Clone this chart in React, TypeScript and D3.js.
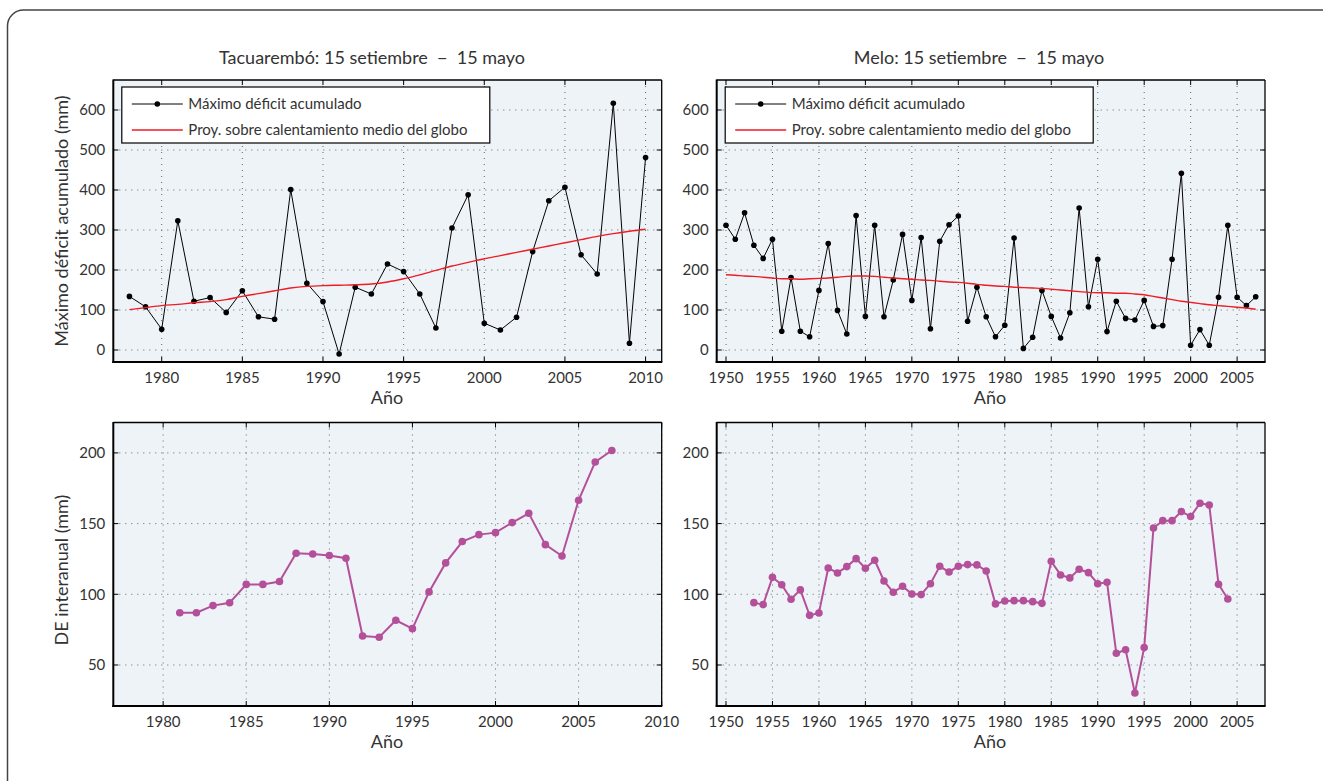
import * as d3 from 'd3'

const FONT = 'Lato, "Open Sans", sans-serif'

// Tacuarembó
const tacYears = d3.range(1978, 2011)
const tacDeficit = [134, 108, 52, 323, 122, 131, 94, 148, 83, 77, 401, 167, 121, -10, 157, 140, 215, 196, 140, 55, 305, 388, 67, 50, 82, 246, 373, 407, 238, 190, 617, 17, 481]
const tacProj = [101, 106, 111, 114, 118, 121, 126, 134, 141, 148, 155, 159, 161, 162, 163, 165, 170, 178, 188, 199, 210, 219, 228, 236, 244, 252, 260, 268, 276, 284, 291, 297, 302]
const tacDEYears = d3.range(1981, 2008)
const tacDE = [87, 87, 92, 94, 107, 107, 109, 129, 128.5, 127.4, 125.5, 70.5, 69.6, 81.6, 75.7, 101.7, 122.2, 137.3, 142.2, 143.6, 150.7, 157.3, 135.1, 127.1, 166.5, 193.6, 201.7]

// Melo
const meloYears = d3.range(1950, 2008)
const meloDeficit = [312, 277, 343, 262, 229, 277, 47, 181, 47, 33, 149, 266, 99, 40, 336, 84, 312, 83, 175, 289, 124, 281, 53, 272, 313, 335, 72, 157, 83, 33, 62, 280, 4, 32, 149, 84, 30, 93, 355, 108, 227, 46, 122, 79, 75, 124, 59, 61, 227, 442, 12, 51, 12, 132, 312, 132, 111, 133]
const meloProj = [188, 187, 185, 184, 182, 180, 178, 178, 177, 178, 179, 180, 182, 184, 185, 185, 184, 182, 180, 178, 177, 175, 174, 172, 170, 169, 167, 164, 162, 160, 159, 157, 156, 155, 154, 152, 150, 148, 146, 144, 143, 143, 142, 142, 140, 138, 134, 130, 126, 122, 119, 116, 113, 111, 109, 107, 105, 102]
const meloDEYears = d3.range(1953, 2005)
const meloDE = [94.1, 92.7, 112, 106.8, 96.5, 103.1, 85.1, 86.8, 118.6, 115.1, 119.6, 125.2, 118.4, 124.1, 109.4, 101.4, 105.7, 100.2, 99.8, 107.5, 119.8, 115.8, 119.8, 121, 120.8, 116.5, 93.2, 95.3, 95.5, 95.5, 94.8, 93.6, 123.3, 113.7, 111.6, 117.7, 115.3, 107.5, 108.5, 58.3, 60.8, 30.2, 62.3, 146.9, 152.1, 152.1, 158.5, 155, 164.4, 163.2, 107.1, 96.7]

const tacXTicks = [1980, 1985, 1990, 1995, 2000, 2005, 2010]
const meloXTicks = [1950, 1955, 1960, 1965, 1970, 1975, 1980, 1985, 1990, 1995, 2000, 2005]
const deficitYTicks = [0, 100, 200, 300, 400, 500, 600]
const deYTicks = [50, 100, 150, 200]

const legendLabels = ['Máximo déficit acumulado', 'Proy. sobre calentamiento medio del globo']
const titles = ['Tacuarembó: 15 setiembre  −  15 mayo', 'Melo: 15 setiembre  −  15 mayo']

type Series = { years: number[]; values: number[]; kind: 'black' | 'red' | 'purple' }

interface PanelProps {
  left: number
  right: number
  top: number
  bottom: number
  xDomain: [number, number]
  yDomain: [number, number]
  xTicks: number[]
  yTicks: number[]
  series: Series[]
  legend?: boolean
}

function Panel({ left, right, top, bottom, xDomain, yDomain, xTicks, yTicks, series, legend }: PanelProps) {
  const x = d3.scaleLinear().domain(xDomain).range([left, right])
  const y = d3.scaleLinear().domain(yDomain).range([bottom, top])
  const tl = 5

  return (
    <g>
      <rect x={left} y={top} width={right - left} height={bottom - top} fill="#eef3f8" />
      {xTicks.map(t => (
        <line key={'gx' + t} x1={x(t)} x2={x(t)} y1={top} y2={bottom} stroke="#666" strokeWidth={1} strokeDasharray="1,5" />
      ))}
      {yTicks.map(t => (
        <line key={'gy' + t} x1={left} x2={right} y1={y(t)} y2={y(t)} stroke="#666" strokeWidth={1} strokeDasharray="1,5" />
      ))}
      {series.map((s, i) => {
        const pts = s.years.map((yr, j) => [x(yr), y(s.values[j])] as [number, number])
        const line = d3.line()
        if (s.kind === 'red') {
          return <path key={i} d={line.curve(d3.curveMonotoneX)(pts) ?? ''} fill="none" stroke="#ee1c24" strokeWidth={1.4} />
        }
        const color = s.kind === 'black' ? '#000' : '#b4509a'
        const r = s.kind === 'black' ? 2.8 : 3.8
        const sw = s.kind === 'black' ? 1 : 2
        return (
          <g key={i}>
            <path d={line(pts) ?? ''} fill="none" stroke={color} strokeWidth={sw} />
            {pts.map((p, j) => <circle key={j} cx={p[0]} cy={p[1]} r={r} fill={color} />)}
          </g>
        )
      })}
      {xTicks.map(t => (
        <g key={'tx' + t}>
          <line x1={x(t)} x2={x(t)} y1={bottom} y2={bottom - tl} stroke="#000" />
          <line x1={x(t)} x2={x(t)} y1={top} y2={top + tl} stroke="#000" />
          <text x={x(t)} y={bottom + 21} textAnchor="middle" fontSize={15} fill="#333">{t}</text>
        </g>
      ))}
      {yTicks.map(t => (
        <g key={'ty' + t}>
          <line x1={left} x2={left + tl} y1={y(t)} y2={y(t)} stroke="#000" />
          <line x1={right} x2={right - tl} y1={y(t)} y2={y(t)} stroke="#000" />
          <text x={left - 8} y={y(t)} dy="0.35em" textAnchor="end" fontSize={15} fill="#333">{t}</text>
        </g>
      ))}
      <line x1={left} x2={right} y1={top} y2={top} stroke="#000" strokeWidth={1.3} />
      <line x1={right} x2={right} y1={top} y2={bottom} stroke="#000" strokeWidth={1.3} />
      <line x1={left} x2={left} y1={top - 0.6} y2={bottom + 1} stroke="#000" strokeWidth={2} />
      <line x1={left - 1} x2={right + 0.6} y1={bottom} y2={bottom} stroke="#000" strokeWidth={2} />
      {legend && (
        <g>
          <rect x={left + 8.5} y={top + 7} width={368} height={56} fill="#fff" stroke="#000" strokeWidth={1.2} />
          <line x1={left + 18.5} x2={left + 69.5} y1={top + 24} y2={top + 24} stroke="#000" strokeWidth={1} />
          <circle cx={left + 44} cy={top + 24} r={2.8} fill="#000" />
          <text x={left + 75} y={top + 24} dy="0.35em" fontSize={15} fill="#333">{legendLabels[0]}</text>
          <line x1={left + 18.5} x2={left + 69.5} y1={top + 50} y2={top + 50} stroke="#ee1c24" strokeWidth={1.4} />
          <text x={left + 75} y={top + 50} dy="0.35em" fontSize={15} fill="#333">{legendLabels[1]}</text>
        </g>
      )}
    </g>
  )
}

export default function App() {
  const L = [113.3, 661.7]
  const R = [716.7, 1265]
  const topRow = [80, 362]
  const botRow = [422.5, 706]
  const defY: [number, number] = [-30, 675]
  const deY: [number, number] = [21, 221.5]

  return (
    <svg width={1323} height={781} style={{ position: 'absolute', left: 0, top: 0, fontFamily: FONT }}>
      <rect x={0} y={0} width={1323} height={781} fill="#fff" />
      <rect x={7.5} y={10} width={1330} height={820} rx={16} fill="none" stroke="#444" strokeWidth={1.5} />

      <text x={372} y={64} textAnchor="middle" fontSize={18} fill="#333" style={{ whiteSpace: 'pre' }}>{titles[0]}</text>
      <text x={979} y={64} textAnchor="middle" fontSize={18} fill="#333" style={{ whiteSpace: 'pre' }}>{titles[1]}</text>

      <Panel left={L[0]} right={L[1]} top={topRow[0]} bottom={topRow[1]} xDomain={[1977, 2011]} yDomain={defY}
        xTicks={tacXTicks} yTicks={deficitYTicks} legend
        series={[{ years: tacYears, values: tacDeficit, kind: 'black' }, { years: tacYears, values: tacProj, kind: 'red' }]} />
      <Panel left={R[0]} right={R[1]} top={topRow[0]} bottom={topRow[1]} xDomain={[1949, 2008]} yDomain={defY}
        xTicks={meloXTicks} yTicks={deficitYTicks} legend
        series={[{ years: meloYears, values: meloDeficit, kind: 'black' }, { years: meloYears, values: meloProj, kind: 'red' }]} />
      <Panel left={L[0]} right={L[1]} top={botRow[0]} bottom={botRow[1]} xDomain={[1977, 2010]} yDomain={deY}
        xTicks={tacXTicks} yTicks={deYTicks}
        series={[{ years: tacDEYears, values: tacDE, kind: 'purple' }]} />
      <Panel left={R[0]} right={R[1]} top={botRow[0]} bottom={botRow[1]} xDomain={[1949, 2008]} yDomain={deY}
        xTicks={meloXTicks} yTicks={deYTicks}
        series={[{ years: meloDEYears, values: meloDE, kind: 'purple' }]} />

      <text x={387} y={404} textAnchor="middle" fontSize={18} fill="#333">Año</text>
      <text x={990} y={404} textAnchor="middle" fontSize={18} fill="#333">Año</text>
      <text x={387} y={748} textAnchor="middle" fontSize={18} fill="#333">Año</text>
      <text x={990} y={748} textAnchor="middle" fontSize={18} fill="#333">Año</text>

      <text transform="translate(68,221) rotate(-90)" textAnchor="middle" fontSize={18} fill="#333">Máximo déficit acumulado (mm)</text>
      <text transform="translate(68,570) rotate(-90)" textAnchor="middle" fontSize={18} fill="#333">DE interanual (mm)</text>
    </svg>
  )
}
